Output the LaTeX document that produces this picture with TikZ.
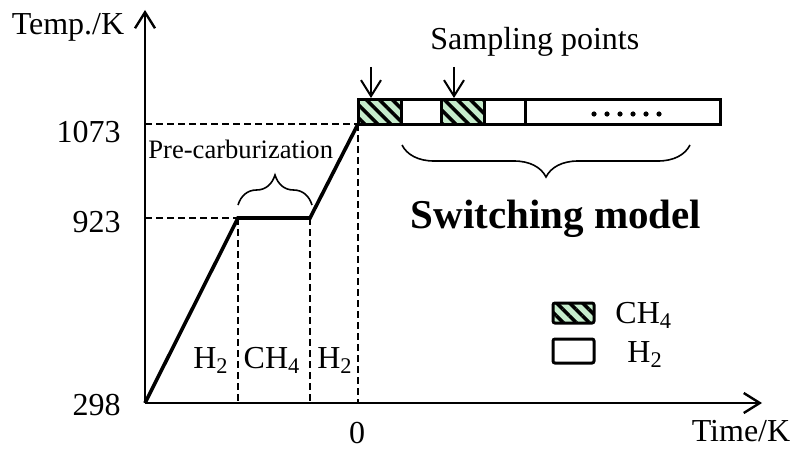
\documentclass[tikz,border=0pt]{standalone}
\usepackage{fontspec}
\setmainfont{Liberation Serif}
\usetikzlibrary{arrows.meta, decorations.pathreplacing, patterns.meta}
\definecolor{gasgreen}{RGB}{198,236,204}
\newcommand{\chem}[2]{#1\textsubscript{#2}}

\begin{document}
\begin{tikzpicture}[
    x=0.5pt, y=-0.5pt,
    >={Straight Barb[length=8pt,width=10pt]},
    lbl/.style={font=\fontsize{16}{19}\selectfont, inner sep=0pt},
    small/.style={font=\fontsize{13.3}{16}\selectfont, inner sep=0pt},
    axis/.style={->, line width=1.2pt},
    profile/.style={line width=1.8pt, line join=miter},
    guide/.style={line width=1pt, dash pattern=on 3.5pt off 2pt},
    seg/.style={draw, line width=1.5pt},
    ch4seg/.style={seg, preaction={fill=gasgreen},
                   preaction={pattern={Lines[angle=-45,distance=4.6pt,line width=1.8pt]}}},
    brc/.style={decorate, line width=0.8pt},
    sarr/.style={->, line width=1pt},
]
\useasboundingbox (0,0) rectangle (795,449);

% axes
\coordinate (O) at (145,403);
\coordinate (ytop) at (145,10);
\coordinate (xend) at (762,403);
\draw[axis] (O) -- (ytop);
\draw[axis] (O) -- (xend);
\node[lbl, anchor=base] (ylab) at (68,35) {Temp./K};
\node[lbl, anchor=base] (xlab) at (741,441) {Time/K};

% temperature profile
\coordinate (heat) at (238,218);
\coordinate (hold) at (310,218);
\coordinate (hot) at (358,124);
\draw[guide] (O |- heat) -- (heat);
\draw[guide] (O |- hot) -- (hot);
\draw[guide] (heat) -- (heat |- O);
\draw[guide] (hold) -- (hold |- O);
\draw[guide] (hot) -- (hot |- O);
\draw[profile] (O) -- (heat) -- (hold) -- (hot);

\node[lbl, anchor=base east] (t1073) at (121,142) {1073};
\node[lbl, anchor=base east] (t923) at (121,232) {923};
\node[lbl, anchor=base east] (t298) at (121,415) {298};
\node[lbl, anchor=base] (tzero) at (357,443) {0};

\node[lbl, anchor=base] (gasA) at (211,368) {\chem{H}{2}};
\node[lbl, anchor=base] (gasB) at (272,368) {\chem{CH}{4}};
\node[lbl, anchor=base] (gasC) at (335,368) {\chem{H}{2}};

% pre-carburization
\draw[brc, decoration={brace, amplitude=15pt}] (heat |- 0,205) -- (312,205);
\node[small, anchor=base west] (precarb) at (148,158) {Pre-carburization};

% switching bar
\draw[ch4seg] (358,99) rectangle (401,124);
\draw[seg] (401,99) rectangle (441,124);
\draw[ch4seg] (441,99) rectangle (484,124);
\draw[seg] (484,99) rectangle (525,124);
\draw[seg] (525,99) rectangle (720,124);
\foreach \i in {0,...,5}
  \fill (594+13*\i,114) circle (2.6);

\draw[sarr] (371,67) -- (371,98);
\draw[sarr] (454,67) -- (454,98);
\node[lbl, anchor=base west] (sampling) at (430,50) {Sampling points};

\draw[brc, decoration={brace, amplitude=16pt}] (690,145) -- (402,145);
\node[font=\fontsize{20.5}{24}\selectfont\bfseries, inner sep=0pt, anchor=base]
    (switching) at (556,228) {Switching model};

% legend
\draw[ch4seg, rounded corners=1pt] (553,303) rectangle (594,323);
\draw[seg, rounded corners=1pt] (553,339) rectangle (594,363);
\node[lbl, anchor=base west] (legCH) at (615,323) {\chem{CH}{4}};
\node[lbl, anchor=base west] (legH) at (627,362) {\chem{H}{2}};
\end{tikzpicture}
\end{document}
